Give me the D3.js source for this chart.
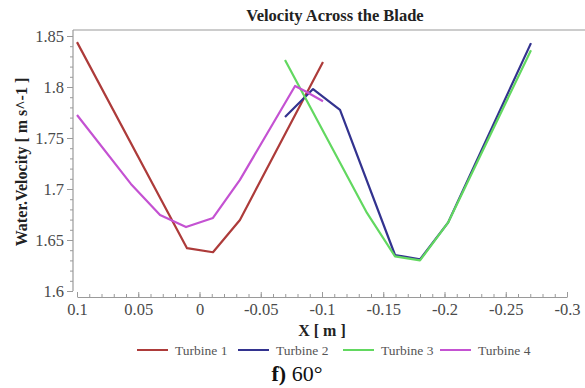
<!DOCTYPE html>
<html>
<head>
<meta charset="utf-8">
<script src="https://cdn.jsdelivr.net/npm/d3@7"></script>
<style>
  body { margin: 0; background: #fff; }
  svg { display: block; }
  svg text { font-family: "Liberation Serif", "Times New Roman", Times, serif; }
</style>
</head>
<body>
<svg id="chart" width="585" height="388"></svg>
<script>
// values
const seriesNames = ['Turbine 1', 'Turbine 2', 'Turbine 3', 'Turbine 4'];
const seriesColors = ['#ad3b3a', '#33338f', '#62d860', '#c452d2'];

const turbine1X = [0.1, 0.0102, -0.011, -0.033, -0.1008];
const turbine1Y = [1.844, 1.642, 1.638, 1.6696, 1.8245];

const turbine2X = [-0.0698, -0.0927, -0.1147, -0.1596, -0.18, -0.2029, -0.2706];
const turbine2Y = [1.7706, 1.798, 1.7775, 1.6353, 1.631, 1.667, 1.843];

const turbine3X = [-0.0698, -0.1367, -0.1596, -0.18, -0.2029, -0.2706];
const turbine3Y = [1.8265, 1.6765, 1.634, 1.630, 1.667, 1.836];

const turbine4X = [0.1, 0.056, 0.0322, 0.011, -0.011, -0.033, -0.078, -0.086, -0.1008];
const turbine4Y = [1.7725, 1.705, 1.6745, 1.6627, 1.6716, 1.709, 1.801, 1.796, 1.786];

const xTicks = [0.1, 0.05, 0, -0.05, -0.1, -0.15, -0.2, -0.25, -0.3];
const xTickLabels = ['0.1', '0.05', '0', '-0.05', '-0.1', '-0.15', '-0.2', '-0.25', '-0.3'];
const yTicks = [1.6, 1.65, 1.7, 1.75, 1.8, 1.85];
const yTickLabels = ['1.6', '1.65', '1.7', '1.75', '1.8', '1.85'];

const seriesX = [turbine1X, turbine2X, turbine3X, turbine4X];
const seriesY = [turbine1Y, turbine2Y, turbine3Y, turbine4Y];

const svg = d3.select('#chart');
const axisColor = '#9a9a9a';
const labelColor = '#4a4a4a';

const frame = { left: 73, top: 30, right: 585, xAxisY: 297 };

const x = d3.scaleLinear().domain([0.1, -0.3]).range([77, 567]);
const y = d3.scaleLinear().domain([1.6, 1.85]).range([291, 36]);

// title
svg.append('text')
  .attr('x', 335).attr('y', 21)
  .attr('text-anchor', 'middle')
  .attr('font-weight', 'bold')
  .attr('font-size', 16.5)
  .attr('fill', '#222')
  .text('Velocity Across the Blade');

// top frame line and left axis line
svg.append('line')
  .attr('x1', frame.left).attr('x2', frame.right)
  .attr('y1', frame.top).attr('y2', frame.top)
  .attr('stroke', axisColor).attr('stroke-width', 1.2);
svg.append('line')
  .attr('x1', frame.left).attr('x2', frame.left)
  .attr('y1', frame.top).attr('y2', y(1.6))
  .attr('stroke', axisColor).attr('stroke-width', 1.2);

// y axis
const yMinor = svg.append('g')
  .attr('transform', `translate(${frame.left},0)`)
  .call(d3.axisLeft(y).ticks(25).tickSize(3).tickFormat(''));
yMinor.select('.domain').remove();
yMinor.selectAll('line').attr('stroke', axisColor);

const yAxis = svg.append('g')
  .attr('transform', `translate(${frame.left},0)`)
  .call(d3.axisLeft(y).tickValues(yTicks).tickSize(6).tickPadding(3)
    .tickFormat((d, i) => yTickLabels[i]));
yAxis.select('.domain').remove();
yAxis.selectAll('line').attr('stroke', axisColor);
yAxis.selectAll('text')
  .attr('font-size', 16.5)
  .attr('fill', labelColor);

// x axis (ticks point up)
const xMinor = svg.append('g')
  .attr('transform', `translate(0,${frame.xAxisY})`)
  .call(d3.axisBottom(x).ticks(40).tickSize(-3).tickFormat(''));
xMinor.select('.domain').remove();
xMinor.selectAll('line').attr('stroke', axisColor);

const xAxis = svg.append('g')
  .attr('transform', `translate(0,${frame.xAxisY})`)
  .call(d3.axisBottom(x).tickValues(xTicks).tickSizeInner(-5).tickSizeOuter(0).tickPadding(6)
    .tickFormat((d, i) => xTickLabels[i]));
xAxis.select('.domain').attr('stroke', axisColor).attr('stroke-width', 1.2);
xAxis.selectAll('line').attr('stroke', axisColor);
xAxis.selectAll('text')
  .attr('font-size', 16.5)
  .attr('fill', labelColor);

// axis titles
svg.append('text')
  .attr('x', 322).attr('y', 336)
  .attr('text-anchor', 'middle')
  .attr('font-weight', 'bold')
  .attr('font-size', 16)
  .attr('fill', '#222')
  .text('X [ m ]');

svg.append('text')
  .attr('transform', 'translate(27,162) rotate(-90)')
  .attr('text-anchor', 'middle')
  .attr('font-weight', 'bold')
  .attr('font-size', 16)
  .attr('fill', '#222')
  .text('Water.Velocity [ m s^-1 ]');

// lines
const line = d3.line().x(d => x(d[0])).y(d => y(d[1]));
const series = seriesNames.map((name, i) => ({
  name,
  color: seriesColors[i],
  points: seriesX[i].map((v, j) => [v, seriesY[i][j]])
}));

svg.append('g').selectAll('path')
  .data(series)
  .join('path')
  .attr('d', d => line(d.points))
  .attr('fill', 'none')
  .attr('stroke', d => d.color)
  .attr('stroke-width', 2.2)
  .attr('stroke-linejoin', 'round');

// legend
const legendX = [137, 238, 343, 440];
const legend = svg.append('g').selectAll('g')
  .data(series)
  .join('g')
  .attr('transform', (d, i) => `translate(${legendX[i]},350)`);
legend.append('line')
  .attr('x1', 0).attr('x2', 31)
  .attr('stroke', d => d.color)
  .attr('stroke-width', 2);
legend.append('text')
  .attr('x', 38).attr('y', 4.5)
  .attr('font-size', 13.5)
  .attr('fill', '#555')
  .text(d => d.name);

// caption
const caption = svg.append('text')
  .attr('x', 297).attr('y', 381)
  .attr('text-anchor', 'middle')
  .attr('font-size', 22)
  .attr('fill', '#111');
caption.append('tspan').attr('font-weight', 'bold').text('f)');
caption.append('tspan').text(' 60°');
</script>
</body>
</html>
